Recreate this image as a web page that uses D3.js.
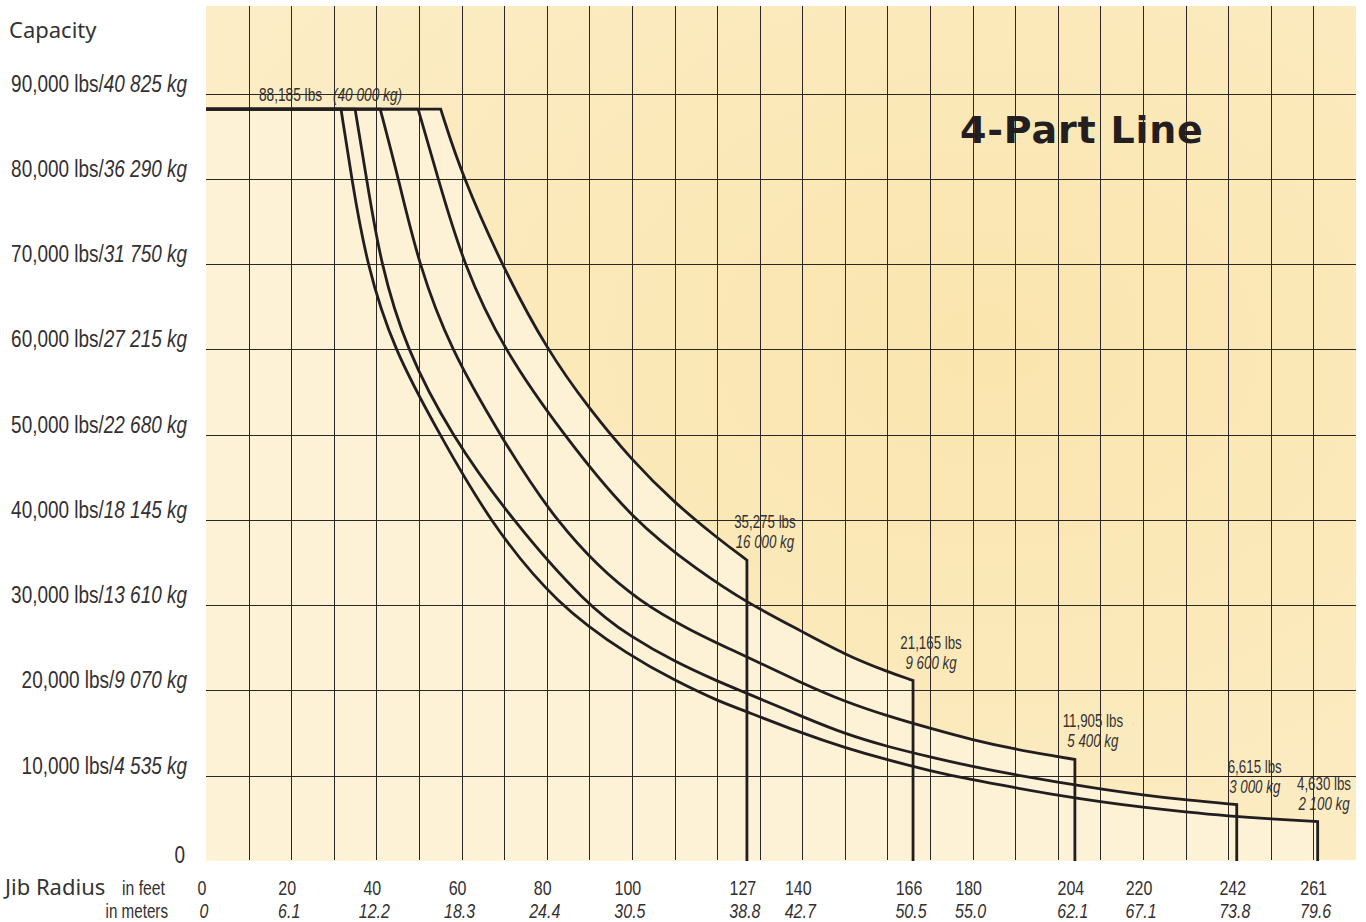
<!DOCTYPE html>
<html lang="en">
  <head>
    <meta charset="utf-8" />
    <title>4-Part Line load chart</title>
    <script src="https://cdnjs.cloudflare.com/ajax/libs/d3/7.8.5/d3.min.js"></script>
    <style type="text/css">
      body {
        margin: 0;
        background: #fff;
      }

      /* condensed look: Liberation Sans squeezed horizontally via transform */
      .narrow {
        font-family: "Liberation Sans", Arial, sans-serif;
        fill: #343031;
      }

      .grid line {
        stroke: #2b2727;
        stroke-width: 1;
        shape-rendering: crispEdges;
      }

      .curve {
        fill: none;
        stroke: #221e1f;
        stroke-width: 2.8;
        stroke-linejoin: miter;
      }

      .envelope {
        fill: #fdf1d6;
        stroke: none;
      }

      .title {
        font-family: "DejaVu Sans", sans-serif;
        font-weight: bold;
        font-size: 38px;
        letter-spacing: 0.8px;
        fill: #231f20;
      }

      .heading {
        font-family: "Noto Sans", sans-serif;
        font-size: 22px;
        fill: #333;
      }
    </style>
  </head>

  <body>
    <div id="chart"></div>

    <script>
      const outerWidth = 1366;
      const outerHeight = 922;

      // Plateau shared by every line
      const maxLbs = 88185;
      const maxLabel = ['88,185 lbs', '(40 000 kg)'];

      // Axis labels
      const feetTicks = [0, 20, 40, 60, 80, 100, 127, 140, 166, 180, 204, 220, 242, 261];
      const meterTicks = ['0', '6.1', '12.2', '18.3', '24.4', '30.5', '38.8', '42.7', '50.5', '55.0', '62.1', '67.1', '73.8', '79.6'];
      const lbsTicks = [0, 10000, 20000, 30000, 40000, 50000, 60000, 70000, 80000, 90000];
      const lbsLabels = ['0', '10,000 lbs/', '20,000 lbs/', '30,000 lbs/', '40,000 lbs/', '50,000 lbs/', '60,000 lbs/', '70,000 lbs/', '80,000 lbs/', '90,000 lbs/'];
      const kgLabels = ['', '4 535 kg', '9 070 kg', '13 610 kg', '18 145 kg', '22 680 kg', '27 215 kg', '31 750 kg', '36 290 kg', '40 825 kg'];

      // Load curves, [radius ft, capacity lbs], one per jib length
      const curve127 = [[55.1, 88185], [60, 80500], [70, 69300], [80, 60000], [90, 53000], [100, 47000], [110, 42000], [120, 37900], [127, 35275]];
      const curve166 = [[49.8, 88185], [54.5, 80000], [60.4, 70000], [69.8, 60000], [83.9, 50000], [100, 40000], [116, 33900], [127, 30300], [140, 26900], [150, 24200], [160, 22200], [166, 21165]];
      const curve204 = [[40.9, 88185], [45.2, 80000], [49.9, 70000], [57.4, 60000], [69, 50000], [81.5, 40000], [100.7, 30000], [127, 23960], [140, 20840], [150, 18690], [160, 17010], [170, 15560], [180, 14190], [190, 13100], [200, 12250], [204, 11905]];
      const curve242 = [[35, 88185], [37.7, 80000], [41, 70000], [47, 60000], [57.5, 50000], [71.8, 40000], [89.4, 30000], [100, 26200], [110, 23400], [120, 21100], [127, 19670], [140, 16930], [150, 14900], [160, 13410], [170, 12200], [180, 11060], [190, 10100], [200, 9250], [210, 8450], [220, 7750], [230, 7150], [242, 6615]];
      const curve261 = [[31.7, 88185], [34.2, 80000], [37.7, 70000], [44, 60000], [54.9, 50000], [66.3, 40000], [82.3, 30000], [100, 23900], [110, 21200], [120, 18800], [127, 17510], [140, 14970], [150, 13290], [160, 11850], [170, 10580], [180, 9500], [190, 8600], [200, 7700], [210, 6950], [220, 6290], [230, 5750], [240, 5280], [250, 4930], [261, 4630]];

      const endLbs = ['35,275 lbs', '21,165 lbs', '11,905 lbs', '6,615 lbs', '4,630 lbs'];
      const endKg = ['16 000 kg', '9 600 kg', '5 400 kg', '3 000 kg', '2 100 kg'];

      const curves = [curve127, curve166, curve204, curve242, curve261];

      const svg = d3.select('#chart').append('svg')
        .attr('width', outerWidth)
        .attr('height', outerHeight);

      const x = d3.scaleLinear().domain([0, 270]).range([206, 1356]);
      const y = d3.scaleLinear().domain([0, 90000]).range([861, 93.6]);
      const plotTop = 6;
      const plotBottom = 860;

      // squeeze factor for the condensed labels
      const squeeze = 0.79;
      const place = (px, py, s = squeeze) => `translate(${px},${py}) scale(${s},1)`;

      // Background with a soft yellow wash
      const defs = svg.append('defs');
      const grad = defs.append('radialGradient')
        .attr('id', 'wash')
        .attr('cx', '68%').attr('cy', '40%').attr('r', '75%');
      grad.append('stop').attr('offset', '0%').attr('stop-color', '#fae5ae');
      grad.append('stop').attr('offset', '100%').attr('stop-color', '#fcedc6');

      svg.append('rect')
        .attr('x', x(0))
        .attr('y', plotTop)
        .attr('width', x(270) - x(0))
        .attr('height', plotBottom - plotTop)
        .attr('fill', 'url(#wash)');

      // Light area below the load curves
      const area = d3.area()
        .curve(d3.curveBasis)
        .x(d => x(d[0]))
        .y0(y(0))
        .y1(d => y(d[1]));

      svg.append('rect')
        .attr('class', 'envelope')
        .attr('x', x(0))
        .attr('y', y(maxLbs))
        .attr('width', x(d3.max(curves, c => c[0][0])) - x(0))
        .attr('height', y(0) - y(maxLbs));

      svg.selectAll('.envelope-area')
        .data(curves)
        .join('path')
          .attr('class', 'envelope')
          .attr('d', area);

      // Grid
      const grid = svg.append('g').attr('class', 'grid');
      grid.selectAll('.v')
        .data(d3.range(10, 270, 10))
        .join('line')
          .attr('x1', d => Math.round(x(d)) + 0.5)
          .attr('x2', d => Math.round(x(d)) + 0.5)
          .attr('y1', plotTop)
          .attr('y2', plotBottom);
      grid.selectAll('.h')
        .data(lbsTicks.slice(1))
        .join('line')
          .attr('x1', x(0))
          .attr('x2', x(270))
          .attr('y1', d => Math.round(y(d)) + 0.5)
          .attr('y2', d => Math.round(y(d)) + 0.5);

      // Curves: plateau, falloff, then drop at the jib limit
      const line = d3.line()
        .curve(d3.curveBasis)
        .x(d => x(d[0]))
        .y(d => y(d[1]));

      svg.selectAll('.curve')
        .data(curves)
        .join('path')
          .attr('class', 'curve')
          .attr('d', d => `M${x(0)},${y(maxLbs)}` + line(d).replace(/^M/, 'L') + `V${y(0)}`);

      // Plateau label
      const plateauText = svg.append('text')
        .attr('class', 'narrow')
        .attr('transform', place(259, y(maxLbs) - 8, 0.72))
        .style('font-size', '19px')
        .text(maxLabel[0]);
      plateauText.append('tspan')
        .attr('dx', 15)
        .style('font-style', 'italic')
        .text(maxLabel[1]);

      // End-of-curve labels
      const ends = svg.selectAll('.end-label')
        .data(curves)
        .join('text')
          .attr('class', 'narrow')
          .attr('text-anchor', 'middle')
          .style('font-size', '18px')
          .attr('transform', d => {
            const last = d[d.length - 1];
            const cx = Math.min(x(last[0]) + 18, x(270) - 32);
            return place(cx, y(last[1]) - 32, 0.74);
          });
      ends.append('tspan').attr('x', 0).attr('y', 0).text((d, i) => endLbs[i]);
      ends.append('tspan').attr('x', 0).attr('y', 20)
        .style('font-style', 'italic').text((d, i) => endKg[i]);

      // Y labels
      const yLab = svg.selectAll('.ylab')
        .data(lbsTicks)
        .join('text')
          .attr('class', 'narrow')
          .attr('text-anchor', 'end')
          .attr('transform', d => d === 0 ? place(185, y(d) + 2) : place(187, y(d) - 2))
          .style('font-size', '24px');
      yLab.append('tspan').text((d, i) => lbsLabels[i]);
      yLab.append('tspan').style('font-style', 'italic').text((d, i) => kgLabels[i]);

      svg.append('text')
        .attr('class', 'heading')
        .attr('x', 9)
        .attr('y', 38)
        .text('Capacity');

      // X labels
      svg.selectAll('.xft')
        .data(feetTicks)
        .join('text')
          .attr('class', 'narrow')
          .attr('text-anchor', 'middle')
          .attr('transform', d => place(x(d) - 4, 895, 0.8))
          .style('font-size', '20px')
          .text(d => d);

      svg.selectAll('.xm')
        .data(meterTicks)
        .join('text')
          .attr('class', 'narrow')
          .attr('text-anchor', 'middle')
          .attr('transform', (d, i) => place(x(feetTicks[i]) - 2, 918, 0.8))
          .style('font-size', '20px')
          .style('font-style', 'italic')
          .text(d => d);

      svg.append('text')
        .attr('class', 'heading')
        .attr('x', 5)
        .attr('y', 895)
        .text('Jib Radius');

      svg.append('text')
        .attr('class', 'narrow')
        .attr('text-anchor', 'end')
        .attr('transform', place(165, 895))
        .style('font-size', '20px')
        .text('in feet');

      svg.append('text')
        .attr('class', 'narrow')
        .attr('text-anchor', 'end')
        .attr('transform', place(168, 918, 0.76))
        .style('font-size', '20px')
        .text('in meters');

      // Title
      svg.append('text')
        .attr('class', 'title')
        .attr('x', 960)
        .attr('y', 143)
        .text('4-Part Line');
    </script>
  </body>
</html>
